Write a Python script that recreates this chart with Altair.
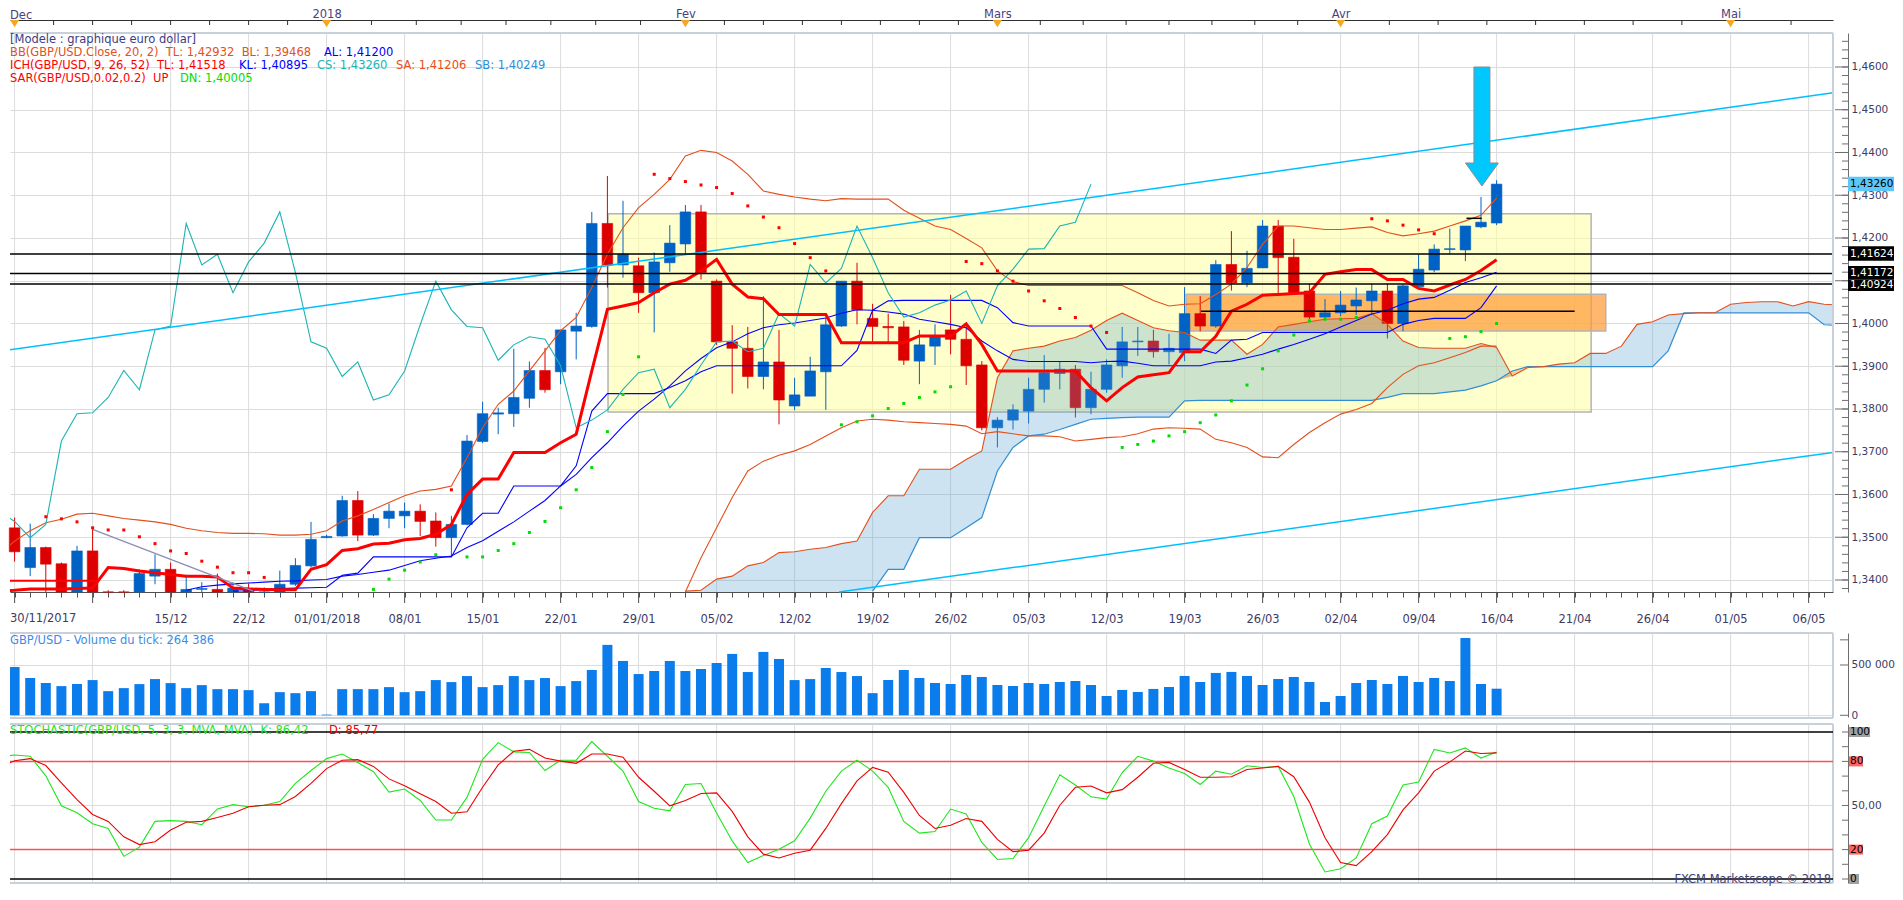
import altair as alt
import pandas as pd

FONT = "DejaVu Sans"
TXT_AXIS = "#3C3C64"

# ---------------- labels ----------------
DATE_IDX = [11, 16, 21, 26, 31, 36, 41, 46, 51, 56, 61, 66, 71, 76, 81, 86, 91, 96, 101, 106, 111, 116]
DATE_TXT = ["15/12", "22/12", "01/01/2018", "08/01", "15/01", "22/01", "29/01", "05/02", "12/02", "19/02",
            "26/02", "05/03", "12/03", "19/03", "26/03", "02/04", "09/04", "16/04", "21/04", "26/04",
            "01/05", "06/05"]
GRID_IDX = [1, 6] + DATE_IDX
MONTH_IDX = [1, 21, 44, 64, 86, 111]
MONTH_TXT = ["Dec", "2018", "Fev", "Mars", "Avr", "Mai"]

# ---------------- candles (bar index 0 = 30/11/2017 ... 96 = 16/04/2018) ----------------
OPEN = [1.3406, 1.3522, 1.3429, 1.3476, 1.3438, 1.3365, 1.3468, 1.3372, 1.3345, 1.3340,
        1.3409, 1.3425, 1.3330, 1.3378, 1.3378, 1.3350, 1.3381, 1.3350, 1.3365, 1.3390,
        1.3433, 1.3499, 1.3503, 1.3586, 1.3505, 1.3544, 1.3550, 1.3561, 1.3538, 1.3499,
        1.3530, 1.3724, 1.3788, 1.3789, 1.3825, 1.3890, 1.3887, 1.3982, 1.3993, 1.4234,
        1.4137, 1.4135, 1.4072, 1.4142, 1.4186, 1.4261, 1.4099, 1.3957, 1.3942, 1.3876,
        1.3910, 1.3807, 1.3830, 1.3887, 1.3994, 1.4099, 1.4012, 1.3993, 1.3992, 1.3912,
        1.3947, 1.3985, 1.3963, 1.3903, 1.3756, 1.3774, 1.3795, 1.3846, 1.3883, 1.3893,
        1.3803, 1.3846, 1.3901, 1.3957, 1.3959, 1.3934, 1.3932, 1.4023, 1.3994, 1.4138,
        1.4095, 1.4130, 1.4228, 1.4155, 1.4076, 1.4015, 1.4025, 1.4041, 1.4053, 1.4076,
        1.4000, 1.4086, 1.4125, 1.4173, 1.4172, 1.4226, 1.4235]
HIGH = [1.3542, 1.3546, 1.3532, 1.3478, 1.3441, 1.3480, 1.3522, 1.3376, 1.3376, 1.3425,
        1.3460, 1.3441, 1.3412, 1.3395, 1.3415, 1.3395, 1.3392, 1.3383, 1.3422, 1.3451,
        1.3536, 1.3506, 1.3597, 1.3608, 1.3554, 1.3579, 1.3581, 1.3577, 1.3558, 1.3550,
        1.3739, 1.3817, 1.3803, 1.3941, 1.3911, 1.3943, 1.3985, 1.4025, 1.4261, 1.4345,
        1.4287, 1.4154, 1.4166, 1.4230, 1.4277, 1.4277, 1.4103, 1.3996, 1.3992, 1.4064,
        1.3985, 1.3873, 1.3922, 1.4014, 1.4099, 1.4142, 1.4046, 1.4023, 1.4006, 1.3985,
        1.3998, 1.4067, 1.3998, 1.3912, 1.3781, 1.3811, 1.3873, 1.3926, 1.3911, 1.3903,
        1.3887, 1.3916, 1.3992, 1.3992, 1.3985, 1.3976, 1.4085, 1.4064, 1.4148, 1.4216,
        1.4170, 1.4242, 1.4242, 1.4198, 1.4093, 1.4057, 1.4076, 1.4084, 1.4093, 1.4093,
        1.4092, 1.4162, 1.4185, 1.4222, 1.4228, 1.4296, 1.4335]
LOW = [1.3398, 1.3443, 1.3409, 1.3365, 1.3355, 1.3350, 1.3355, 1.3320, 1.3300, 1.3330,
       1.3390, 1.3300, 1.3320, 1.3340, 1.3345, 1.3340, 1.3350, 1.3340, 1.3355, 1.3386,
       1.3429, 1.3498, 1.3501, 1.3491, 1.3503, 1.3521, 1.3521, 1.3503, 1.3478, 1.3454,
       1.3528, 1.3720, 1.3741, 1.3758, 1.3803, 1.3838, 1.3858, 1.3916, 1.3990, 1.4084,
       1.4107, 1.4025, 1.3979, 1.4121, 1.4163, 1.4103, 1.3950, 1.3836, 1.3848, 1.3846,
       1.3764, 1.3797, 1.3830, 1.3798, 1.3992, 1.3998, 1.3957, 1.3954, 1.3903, 1.3858,
       1.3903, 1.3928, 1.3856, 1.3750, 1.3710, 1.3752, 1.3766, 1.3815, 1.3846, 1.3780,
       1.3788, 1.3838, 1.3873, 1.3924, 1.3920, 1.3904, 1.3912, 1.3982, 1.3990, 1.4077,
       1.4085, 1.4130, 1.4068, 1.4070, 1.4010, 1.4012, 1.4017, 1.4020, 1.4020, 1.3965,
       1.3982, 1.4084, 1.4120, 1.4162, 1.4146, 1.4223, 1.4230]
CLOSE = [1.3522, 1.3466, 1.3476, 1.3437, 1.3368, 1.3468, 1.3370, 1.3345, 1.3340, 1.3415,
         1.3425, 1.3325, 1.3378, 1.3380, 1.3360, 1.3381, 1.3365, 1.3365, 1.3390, 1.3434,
         1.3495, 1.3502, 1.3586, 1.3505, 1.3544, 1.3561, 1.3561, 1.3537, 1.3499, 1.3530,
         1.3725, 1.3789, 1.3791, 1.3827, 1.3890, 1.3845, 1.3985, 1.3994, 1.4234, 1.4137,
         1.4162, 1.4072, 1.4144, 1.4188, 1.4261, 1.4119, 1.3957, 1.3942, 1.3876, 1.3910,
         1.3821, 1.3833, 1.3889, 1.3997, 1.4099, 1.4032, 1.3993, 1.3990, 1.3914, 1.3950,
         1.3969, 1.3963, 1.3901, 1.3756, 1.3774, 1.3798, 1.3846, 1.3885, 1.3893, 1.3803,
         1.3846, 1.3903, 1.3957, 1.3959, 1.3934, 1.3942, 1.4023, 1.3994, 1.4138, 1.4095,
         1.4129, 1.4228, 1.4154, 1.4072, 1.4015, 1.4025, 1.4043, 1.4055, 1.4076, 1.4000,
         1.4088, 1.4127, 1.4174, 1.4175, 1.4228, 1.4237, 1.4326]

# ---------------- indicator lines ----------------
TENKAN = [1.3374, 1.3376, 1.3379, 1.3379, 1.3379, 1.3380, 1.3381, 1.3429, 1.3427, 1.3421,
          1.3417, 1.3413, 1.3409, 1.3409, 1.3407, 1.3381, 1.3379, 1.3378, 1.3377, 1.3377,
          1.3425, 1.3436, 1.3469, 1.3473, 1.3484, 1.3486, 1.3494, 1.3497, 1.3507, 1.3530,
          1.3600, 1.3636, 1.3636, 1.3698, 1.3698, 1.3698, 1.3721, 1.3741, 1.3889, 1.4033,
          1.4041, 1.4049, 1.4072, 1.4092, 1.4101, 1.4123, 1.4150, 1.4092, 1.4062, 1.4058,
          1.4021, 1.4021, 1.4021, 1.4021, 1.3955, 1.3955, 1.3955, 1.3955, 1.3955, 1.3971,
          1.3971, 1.3971, 1.3999, 1.3951, 1.3889, 1.3889, 1.3889, 1.3889, 1.3889, 1.3889,
          1.3850, 1.3819, 1.3850, 1.3875, 1.3880, 1.3885, 1.3934, 1.3934, 1.3970, 1.4029,
          1.4045, 1.4066, 1.4068, 1.4070, 1.4072, 1.4115, 1.4121, 1.4126, 1.4126, 1.4103,
          1.4103, 1.4082, 1.4076, 1.4090, 1.4103, 1.4124, 1.4149]
KIJUN_START = 15
KIJUN = [1.3374, 1.3375, 1.3378, 1.3380, 1.3381, 1.3382, 1.3383, 1.3411, 1.3416, 1.3454,
         1.3454, 1.3454, 1.3454, 1.3454, 1.3454, 1.3522, 1.3556, 1.3556, 1.3620, 1.3620,
         1.3620, 1.3620, 1.3667, 1.3795, 1.3836, 1.3836, 1.3836, 1.3836, 1.3850, 1.3866,
         1.3887, 1.3901, 1.3901, 1.3901, 1.3901, 1.3901, 1.3901, 1.3901, 1.3901, 1.3901,
         1.3937, 1.4031, 1.4053, 1.4054, 1.4054, 1.4054, 1.4054, 1.4054, 1.4054, 1.4037,
         1.4002, 1.3994, 1.3994, 1.3994, 1.3994, 1.3994, 1.3940, 1.3940, 1.3940, 1.3940,
         1.3940, 1.3940, 1.3940, 1.3930, 1.3961, 1.3963, 1.3979, 1.3979, 1.3979, 1.3979,
         1.3979, 1.3979, 1.3979, 1.3979, 1.3979, 1.3998, 1.4007, 1.4012, 1.4012, 1.4012,
         1.4037, 1.4088]
BB_MID_START = 12
BB_MID = [1.3376, 1.3384, 1.3388, 1.3391, 1.3393, 1.3395, 1.3397, 1.3398, 1.3400, 1.3401,
          1.3409, 1.3413, 1.3418, 1.3423, 1.3434, 1.3445, 1.3451, 1.3456, 1.3476, 1.3492,
          1.3514, 1.3536, 1.3561, 1.3586, 1.3620, 1.3647, 1.3686, 1.3721, 1.3760, 1.3795,
          1.3823, 1.3854, 1.3889, 1.3918, 1.3943, 1.3957, 1.3976, 1.3990, 1.3997, 1.4001,
          1.4007, 1.4013, 1.4024, 1.4032, 1.4031, 1.4027, 1.4022, 1.4010, 1.4004, 1.3998,
          1.3990, 1.3959, 1.3936, 1.3916, 1.3911, 1.3911, 1.3911, 1.3911, 1.3908, 1.3911,
          1.3912, 1.3907, 1.3901, 1.3901, 1.3901, 1.3901, 1.3910, 1.3912, 1.3920, 1.3928,
          1.3940, 1.3951, 1.3963, 1.3976, 1.3992, 1.4007, 1.4022, 1.4031, 1.4046, 1.4057,
          1.4061, 1.4078, 1.4096, 1.4107, 1.4120]
BB_UP = [1.3460, 1.3491, 1.3515, 1.3534, 1.3542, 1.3554, 1.3556, 1.3550, 1.3544, 1.3540,
         1.3536, 1.3530, 1.3521, 1.3515, 1.3511, 1.3509, 1.3509, 1.3508, 1.3505, 1.3505,
         1.3507, 1.3515, 1.3538, 1.3550, 1.3565, 1.3581, 1.3597, 1.3608, 1.3612, 1.3620,
         1.3686, 1.3756, 1.3811, 1.3842, 1.3889, 1.3936, 1.3983, 1.4014, 1.4084, 1.4162,
         1.4224, 1.4271, 1.4302, 1.4337, 1.4392, 1.4405, 1.4400, 1.4380, 1.4349, 1.4310,
         1.4302, 1.4296, 1.4291, 1.4287, 1.4292, 1.4291, 1.4291, 1.4291, 1.4265, 1.4246,
         1.4228, 1.4220, 1.4199, 1.4177, 1.4123, 1.4098, 1.4089, 1.4089, 1.4089, 1.4089,
         1.4089, 1.4089, 1.4089, 1.4072, 1.4054, 1.4041, 1.4045, 1.4046, 1.4068, 1.4092,
         1.4131, 1.4185, 1.4228, 1.4228, 1.4224, 1.4220, 1.4220, 1.4223, 1.4226, 1.4213,
         1.4205, 1.4210, 1.4216, 1.4228, 1.4240, 1.4253, 1.4293]
BB_LOW_START = 44
BB_LOW = [1.3372, 1.3452, 1.3522, 1.3593, 1.3655, 1.3678, 1.3692, 1.3702, 1.3717, 1.3737,
          1.3756, 1.3772, 1.3776, 1.3774, 1.3770, 1.3768, 1.3766, 1.3764, 1.3760, 1.3742,
          1.3747, 1.3742, 1.3737, 1.3737, 1.3735, 1.3725, 1.3729, 1.3733, 1.3735, 1.3742,
          1.3753, 1.3756, 1.3755, 1.3753, 1.3729, 1.3721, 1.3710, 1.3688, 1.3686, 1.3717,
          1.3745, 1.3768, 1.3788, 1.3799, 1.3813, 1.3850, 1.3881, 1.3901, 1.3908, 1.3920,
          1.3932, 1.3947, 1.3947]
SPAN_START = 44
SPAN_A = [1.3374, 1.3376, 1.3402, 1.3409, 1.3433, 1.3441, 1.3464, 1.3466, 1.3472, 1.3476,
          1.3485, 1.3491, 1.3558, 1.3597, 1.3597, 1.3659, 1.3659, 1.3659, 1.3682, 1.3702,
          1.3873, 1.3936, 1.3942, 1.3947, 1.3959, 1.3967, 1.3984, 1.4007, 1.4024, 1.4007,
          1.3990, 1.3983, 1.3979, 1.3961, 1.3961, 1.3961, 1.3928, 1.3951, 1.3992, 1.3998,
          1.4004, 1.4010, 1.4011, 1.4012, 1.4023, 1.3998, 1.3959, 1.3944, 1.3942, 1.3942,
          1.3942, 1.3953, 1.3944, 1.3877, 1.3897, 1.3899, 1.3905, 1.3908, 1.3930, 1.3930,
          1.3947, 1.3998, 1.4004, 1.4020, 1.4023, 1.4025, 1.4025, 1.4045, 1.4049, 1.4051,
          1.4051, 1.4041, 1.4051, 1.4045, 1.4043]
SPAN_B = [1.3372, 1.3372, 1.3372, 1.3372, 1.3372, 1.3372, 1.3372, 1.3372, 1.3372, 1.3372,
          1.3372, 1.3372, 1.3374, 1.3425, 1.3425, 1.3499, 1.3499, 1.3499, 1.3522, 1.3546,
          1.3655, 1.3710, 1.3737, 1.3741, 1.3752, 1.3764, 1.3776, 1.3778, 1.3780, 1.3781,
          1.3781, 1.3781, 1.3819, 1.3820, 1.3820, 1.3820, 1.3820, 1.3820, 1.3820, 1.3820,
          1.3820, 1.3820, 1.3820, 1.3820, 1.3820, 1.3827, 1.3836, 1.3836, 1.3836, 1.3840,
          1.3844, 1.3854, 1.3866, 1.3889, 1.3899, 1.3899, 1.3899, 1.3899, 1.3899, 1.3899,
          1.3899, 1.3899, 1.3899, 1.3936, 1.4025, 1.4025, 1.4025, 1.4025, 1.4025, 1.4025,
          1.4025, 1.4025, 1.4025, 1.3997, 1.3995]
SB_VISIBLE_FROM = 56
OLD_RED_LINE = [(0.19, 1.3398), (6.4, 1.3398)]

SAR_IDX = list(range(3, 18)) + list(range(24, 29)) + [29] + list(range(30, 42)) + list(range(42, 54)) \
    + list(range(54, 62)) + list(range(62, 72)) + list(range(72, 88)) + list(range(88, 93)) + list(range(93, 97))
SAR_VAL = [1.3548, 1.3543, 1.3536, 1.3522, 1.3517, 1.3517, 1.3501, 1.3485, 1.3468, 1.3462,
           1.3444, 1.3430, 1.3417, 1.3417, 1.3406,
           1.3378, 1.3402, 1.3423, 1.3442, 1.3459,
           1.3611,
           1.3454, 1.3454, 1.3469, 1.3485, 1.3511, 1.3537, 1.3569, 1.3611, 1.3663, 1.3747, 1.3834, 1.3922,
           1.4349, 1.4339, 1.4332, 1.4324, 1.4318, 1.4304, 1.4275, 1.4249, 1.4224, 1.4187, 1.4154, 1.4123,
           1.3763, 1.3770, 1.3784, 1.3801, 1.3813, 1.3827, 1.3840, 1.3852,
           1.4145, 1.4140, 1.4123, 1.4099, 1.4076, 1.4053, 1.4035, 1.4014, 1.3994, 1.3979,
           1.3710, 1.3717, 1.3725, 1.3737, 1.3747, 1.3768, 1.3786, 1.3819, 1.3856, 1.3894, 1.3936, 1.3973,
           1.4006, 1.4010, 1.4010, 1.4014,
           1.4245, 1.4240, 1.4230, 1.4219, 1.4210,
           1.3965, 1.3969, 1.3981, 1.4000]
SAR_SIDE = ["dn"] * 15 + ["up"] * 5 + ["dn"] + ["up"] * 12 + ["dn"] * 12 + ["up"] * 8 + ["dn"] * 10 \
    + ["up"] * 16 + ["dn"] * 5 + ["up"] * 4

# drawn objects (bar index, price)
TREND_UP = [(0.192, 1.39357), (117.56, 1.45396)]
TREND_LOW = [(53.85, 1.33719), (117.56, 1.36985)]
GREY_DIAG = [(6.0, 1.35185), (16.3, 1.3374)]
HLINES = [1.41624, 1.41172, 1.40924]
SHORT_LINES = [(77.05, 101.0, 1.40285), (94.07, 95.04, 1.4246)]
YELLOW_BOX = (39.04, 102.06, 1.3793, 1.42568)
ORANGE_BOX = (76.1, 103.0, 1.39824, 1.40683)
ARROW = (95.06, 1.44608)

# ---------------- volume and stochastic ----------------
VOLUME = [423000, 480000, 370000, 320000, 290000, 310000, 350000, 240000, 270000, 310000,
          360000, 320000, 270000, 300000, 260000, 260000, 250000, 120000, 230000, 220000,
          240000, 7000, 260000, 260000, 260000, 280000, 230000, 240000, 350000, 330000,
          390000, 280000, 300000, 390000, 350000, 370000, 290000, 340000, 450000, 700000,
          540000, 410000, 440000, 540000, 440000, 460000, 520000, 610000, 430000, 630000,
          560000, 350000, 360000, 470000, 430000, 390000, 220000, 351000, 450000, 371000,
          321000, 311000, 401000, 381000, 301000, 291000, 321000, 311000, 331000, 341000,
          301000, 192000, 252000, 232000, 262000, 281000, 391000, 331000, 421000, 431000,
          391000, 301000, 361000, 381000, 331000, 132000, 192000, 321000, 351000, 311000,
          391000, 331000, 371000, 341000, 768000, 311000, 264386]
STO_K = [82.9, 84.4, 83.5, 70.2, 49.8, 45.0, 37.6, 34.4, 15.4, 21.7,
         39.2, 39.7, 39.2, 36.9, 47.7, 50.6, 49.2, 50.2, 52.7, 65.0,
         73.8, 81.9, 85.0, 79.3, 73.0, 59.1, 61.2, 53.4, 40.1, 40.1,
         55.5, 81.4, 92.8, 86.5, 86.1, 73.8, 80.8, 80.8, 93.5, 83.5,
         73.4, 52.7, 48.1, 46.4, 64.3, 65.0, 44.9, 25.9, 11.2, 16.0,
         20.3, 26.0, 41.4, 59.7, 73.4, 80.8, 73.4, 62.4, 39.2, 31.2,
         32.3, 47.6, 44.3, 24.9, 13.3, 13.9, 28.1, 49.6, 70.9, 63.9,
         55.9, 54.4, 72.4, 83.5, 80.2, 75.5, 71.7, 64.3, 73.4, 71.3,
         77.0, 75.9, 76.6, 56.1, 23.8, 4.8, 7.0, 14.3, 37.6, 42.8,
         63.9, 66.0, 88.2, 85.7, 89.2, 82.3, 86.42]
STO_D = [75.9, 80.4, 81.9, 77.2, 65.4, 54.0, 43.9, 39.2, 28.7, 23.4,
         25.3, 33.3, 38.6, 39.2, 41.8, 44.7, 49.2, 50.2, 50.6, 56.1,
         65.0, 75.1, 80.8, 81.2, 76.6, 68.1, 63.5, 58.0, 52.7, 44.7,
         45.8, 62.4, 77.6, 86.9, 88.2, 82.3, 80.2, 78.7, 85.0, 85.0,
         82.9, 69.2, 59.7, 49.8, 53.4, 58.2, 58.6, 46.0, 28.7, 16.9,
         14.3, 17.5, 19.6, 34.4, 51.3, 66.7, 75.9, 72.6, 58.9, 43.2,
         34.4, 36.5, 41.1, 39.2, 27.0, 18.6, 19.6, 31.2, 50.2, 62.4,
         63.3, 58.6, 60.8, 69.2, 78.7, 79.3, 74.5, 69.2, 69.2, 69.6,
         74.5, 75.5, 76.6, 69.6, 52.3, 28.1, 11.2, 9.1, 18.6, 30.2,
         47.0, 58.6, 73.4, 79.7, 87.1, 85.4, 85.77]

# ---------------- geometry ----------------
W, H = 1823, 850
XMIN, XMAX = 0.7051, 117.564
PMIN, PMAX = 1.33719, 1.46795
P_RANGE = [559, 0]
V_DOM, V_RANGE = [-17000, 818000], [684, 600]
S_DOM, S_RANGE = [-2.72, 105.44], [850, 691]

XS = alt.Scale(domain=[XMIN, XMAX], nice=False, zero=False)


def xq(f, axis=None):
    return alt.X(f, type="quantitative", scale=XS, axis=axis)


def yq(f, dom, rng, axis=None, clamp=False):
    return alt.Y(f, type="quantitative",
                 scale=alt.Scale(domain=dom, range=rng, nice=False, zero=False, clamp=clamp),
                 axis=axis)


def py(f, axis=None):
    return yq(f, [PMIN, PMAX], P_RANGE, axis, True)


def vy(f, axis=None):
    return yq(f, V_DOM, V_RANGE, axis)


def sy(f, axis=None):
    return yq(f, S_DOM, S_RANGE, axis)


ONE = pd.DataFrame({"a": [0]})


def txt(x, y, s, color, size=11.5, align="left", baseline="middle"):
    return alt.Chart(ONE).mark_text(text=s, font=FONT, fontSize=size, color=color,
                                    align=align, baseline=baseline).encode(
        x=alt.value(x), y=alt.value(y))


def line(points_i, points_v, color, width):
    df = pd.DataFrame({"i": points_i, "v": points_v})
    return alt.Chart(df).mark_line(color=color, strokeWidth=width, clip=True).encode(x=xq("i"), y=py("v"))


def ternary(idx, labels):
    e = "''"
    for k, t in reversed(list(zip(idx, labels))):
        e = "(datum.value == %s ? '%s' : %s)" % (k, t, e)
    return e


layers = []

# vertical grid lines in each panel
gdf = pd.DataFrame({"g": GRID_IDX})
for y0, y1 in [(0, 559), (600, 684), (691, 850)]:
    layers.append(alt.Chart(gdf).mark_rule(color="#DCDCDC", strokeWidth=1).encode(
        x=xq("g"), y=alt.value(y0), y2=alt.value(y1)))

# axis carriers
PT = [round(1.34 + 0.01 * k, 2) for k in range(13)]
price_axis = alt.Axis(orient="right", offset=15, values=PT, title=None, grid=True, gridColor="#DCDCDC",
                      ticks=False, tickSize=0, domainColor="#6E6E6E", labelFont=FONT, labelFontSize=10.5,
                      labelColor=TXT_AXIS, labelPadding=3, labelOverlap=False, labelFlush=False, zindex=0,
                      labelExpr="abs(datum.value - 1.41) < 0.0005 ? '' : replace(format(datum.value, '.4f'), '.', ',')")
layers.append(alt.Chart(pd.DataFrame({"v": PT})).mark_point(opacity=0).encode(y=py("v", price_axis)))

vol_axis = alt.Axis(orient="right", offset=15, values=[0, 500000], title=None, grid=True, gridColor="#DCDCDC",
                    ticks=False, tickSize=0, domainColor="#6E6E6E", labelFont=FONT, labelFontSize=10.5,
                    labelColor=TXT_AXIS, labelPadding=3, labelOverlap=False, labelFlush=False, zindex=0,
                    labelExpr="datum.value == 0 ? '0' : '500 000'")
layers.append(alt.Chart(pd.DataFrame({"v": [0, 500000]})).mark_point(opacity=0).encode(y=vy("v", vol_axis)))

sto_axis = alt.Axis(orient="right", offset=15, values=[50], title=None, grid=True, gridColor="#DCDCDC",
                    ticks=False, tickSize=0, domainColor="#6E6E6E", labelFont=FONT, labelFontSize=10.5,
                    labelColor=TXT_AXIS, labelPadding=3, labelOverlap=False, labelFlush=False, zindex=0,
                    labelExpr="'50,00'")
layers.append(alt.Chart(pd.DataFrame({"v": [50]})).mark_point(opacity=0).encode(y=sy("v", sto_axis)))

date_axis = alt.Axis(orient="bottom", offset=-(H - 559), values=list(range(1, 118)), title=None, grid=False,
                     tickSize=5, tickColor="#505050", domainColor="#505050", labelFont=FONT, labelFontSize=11.5,
                     labelColor=TXT_AXIS, labelPadding=16, labelOverlap=False, labelFlush=False, zindex=0,
                     labelExpr=ternary(DATE_IDX, DATE_TXT))
layers.append(alt.Chart(pd.DataFrame({"t": list(range(1, 118))})).mark_point(opacity=0).encode(
    x=xq("t", date_axis)))

month_axis = alt.Axis(orient="top", offset=13, values=MONTH_IDX[1:], title=None, grid=False, ticks=False,
                      tickSize=0, domainColor="#303030", labelFont=FONT, labelFontSize=11.5,
                      labelColor="#4B3F80", labelPadding=1, labelOverlap=False, labelFlush=False, zindex=0,
                      labelExpr=ternary(MONTH_IDX[1:], MONTH_TXT[1:]))
layers.append(alt.Chart(pd.DataFrame({"m": MONTH_IDX[1:]})).mark_point(opacity=0).encode(
    x=xq("m", month_axis)))

# drawn boxes
for (x1, x2, p1, p2), fill, op in [(YELLOW_BOX, "#FFFFA0", 0.55), (ORANGE_BOX, "#FF9933", 0.7)]:
    df = pd.DataFrame({"x1": [x1], "x2": [x2], "p1": [p1], "p2": [p2]})
    layers.append(alt.Chart(df).mark_rect(fill=fill, fillOpacity=op, stroke="#B4B4B4", strokeWidth=1.5).encode(
        x=xq("x1"), x2="x2", y=py("p1"), y2="p2"))

# candles
cdf = pd.DataFrame({"i": list(range(len(OPEN))), "o": OPEN, "h": HIGH, "l": LOW, "c": CLOSE})
cbase = alt.Chart(cdf).transform_filter("datum.i >= 1").transform_calculate(
    col="datum.c >= datum.o ? '#0062C4' : '#DD0000'", xl="datum.i - 0.34", xr="datum.i + 0.34")
layers.append(cbase.mark_rule(strokeWidth=1).encode(
    x=xq("i"), y=py("l"), y2="h", color=alt.Color("col:N", scale=None)))
layers.append(cbase.mark_rect(strokeWidth=0.6).encode(
    x=xq("xl"), x2="xr", y=py("o"), y2="c", color=alt.Color("col:N", scale=None),
    stroke=alt.Stroke("col:N", scale=None)))

# ichimoku cloud fill (drawn over the candles, translucent)
cloud = pd.DataFrame({"i": list(range(SPAN_START, SPAN_START + len(SPAN_A))), "sa": SPAN_A, "sb": SPAN_B})
clb = alt.Chart(cloud).transform_calculate(lo="min(datum.sa, datum.sb)")
layers.append(clb.mark_area(color="#4A9BD0", opacity=0.28, clip=True, orient="vertical").encode(
    x=xq("i"), y=py("sa"), y2="lo"))
layers.append(clb.mark_area(color="#FF8030", opacity=0.4, clip=True, orient="vertical").encode(
    x=xq("i"), y=py("sb"), y2="lo"))

# lines
ORANGE_L = "#E4501C"
sb_pairs = [(i, v) for i, v in zip(range(SPAN_START, SPAN_START + len(SPAN_B)), SPAN_B) if i >= SB_VISIBLE_FROM]
layers.append(line([p[0] for p in sb_pairs], [p[1] for p in sb_pairs], "#2E8FD6", 1.2))
layers.append(line(list(range(SPAN_START, SPAN_START + len(SPAN_A))), SPAN_A, ORANGE_L, 1.1))
layers.append(line(list(range(BB_LOW_START, BB_LOW_START + len(BB_LOW))), BB_LOW, ORANGE_L, 1.1))
layers.append(line(list(range(len(BB_UP))), BB_UP, ORANGE_L, 1.1))
layers.append(line(list(range(BB_MID_START, BB_MID_START + len(BB_MID))), BB_MID, "#0000FF", 1.1))
layers.append(line(list(range(KIJUN_START, KIJUN_START + len(KIJUN))), KIJUN, "#0000FF", 1.1))
chikou = CLOSE[26:]
layers.append(line(list(range(len(chikou))), chikou, "#1CB4B4", 1.1))
layers.append(line([p[0] for p in OLD_RED_LINE], [p[1] for p in OLD_RED_LINE], "#FF0000", 2))
layers.append(line(list(range(len(TENKAN))), TENKAN, "#FF0000", 3))
for seg in (TREND_UP, TREND_LOW):
    layers.append(line([p[0] for p in seg], [p[1] for p in seg], "#00BFFF", 1.5))
layers.append(line([p[0] for p in GREY_DIAG], [p[1] for p in GREY_DIAG], "#8C8CB4", 1.2))

# horizontal black lines
layers.append(alt.Chart(pd.DataFrame({"v": HLINES})).mark_rule(color="#000000", strokeWidth=1.5).encode(
    y=py("v"), x=alt.value(0), x2=alt.value(W)))
sl = pd.DataFrame({"i1": [s[0] for s in SHORT_LINES], "i2": [s[1] for s in SHORT_LINES],
                   "v": [s[2] for s in SHORT_LINES]})
layers.append(alt.Chart(sl).mark_rule(color="#000000", strokeWidth=1.5).encode(
    x=xq("i1"), x2="i2", y=py("v")))

# parabolic SAR
sar = pd.DataFrame({"i": SAR_IDX, "v": SAR_VAL, "side": SAR_SIDE})
layers.append(alt.Chart(sar).transform_calculate(
    col="datum.side == 'dn' ? '#FF0000' : '#00DD00'").mark_square(size=9, opacity=1, clip=True).encode(
    x=xq("i"), y=py("v"), color=alt.Color("col:N", scale=None)))

# big arrow
ARROW_PATH = "M-0.485,-3.606L0.485,-3.606L0.485,2.212L1,2.212L0,3.606L-1,2.212L-0.485,2.212Z"
layers.append(alt.Chart(pd.DataFrame({"i": [ARROW[0]], "v": [ARROW[1]]})).mark_point(
    shape=ARROW_PATH, filled=True, fill="#00C8FF", stroke="#8C8C8C", strokeWidth=1, size=1089,
    opacity=1, fillOpacity=1).encode(x=xq("i"), y=py("v")))

# panel frames
FR = "#C8D0DA"
for (xa, xb, ya, yb) in [(0, W, 0, 0), (W, W, 0, 559), (0, W, 600, 600), (0, W, 685, 685), (W, W, 600, 685),
                         (0, W, 691, 691), (W, W, 691, 850), (0, W, 850, 850)]:
    layers.append(alt.Chart(ONE).mark_rule(color=FR, strokeWidth=2).encode(
        x=alt.value(xa), x2=alt.value(xb), y=alt.value(ya), y2=alt.value(yb)))

# right axis tick marks
minor = [round(1.338 + 0.002 * k, 3) for k in range(65)]
major = [v for v in minor if abs(round(v * 100) - v * 100) < 1e-6]
layers.append(alt.Chart(pd.DataFrame({"v": minor})).mark_rule(color="#6E6E6E", strokeWidth=1).encode(
    y=py("v"), x=alt.value(W + 9), x2=alt.value(W + 15)))
layers.append(alt.Chart(pd.DataFrame({"v": major})).mark_rule(color="#6E6E6E", strokeWidth=1).encode(
    y=py("v"), x=alt.value(W + 2), x2=alt.value(W + 15)))
layers.append(alt.Chart(pd.DataFrame({"v": [0, 500000, 750000]})).mark_rule(color="#6E6E6E").encode(
    y=vy("v"), x=alt.value(W + 7), x2=alt.value(W + 15)))
layers.append(alt.Chart(pd.DataFrame({"v": list(range(0, 101, 10))})).mark_rule(color="#6E6E6E").encode(
    y=sy("v"), x=alt.value(W + 9), x2=alt.value(W + 15)))

# price label boxes
PBOX = [(1.43263, 0.00167, "1,43260", "#5CC8F8", "#000000"),
        (1.41637, 0.00170, "1,41624", "#000000", "#FFFFFF"),
        (1.41188, 0.00155, "1,41172", "#000000", "#FFFFFF"),
        (1.40896, 0.00137, "1,40924", "#000000", "#FFFFFF")]
pb = pd.DataFrame({"c": [b[0] for b in PBOX], "p1": [b[0] + b[1] for b in PBOX],
                   "p2": [b[0] - b[1] for b in PBOX], "t": [b[2] for b in PBOX],
                   "bg": [b[3] for b in PBOX], "fg": [b[4] for b in PBOX]})
layers.append(alt.Chart(pb).mark_rect().encode(
    x=alt.value(W + 15), x2=alt.value(W + 61), y=py("p1"), y2="p2", color=alt.Color("bg:N", scale=None)))
layers.append(alt.Chart(pb).mark_text(align="left", baseline="middle", font=FONT, fontSize=10.5).encode(
    x=alt.value(W + 17), y=py("c"), text="t:N", color=alt.Color("fg:N", scale=None)))

# stochastic label boxes
for v, t, bg, w in [(100, "100", "#A0A0A0", 21), (80, "80", "#FF6464", 14), (20, "20", "#FF6464", 14),
                    (0, "0", "#A0A0A0", 10)]:
    df = pd.DataFrame({"v": [v], "p1": [v + 3.4], "p2": [v - 3.4], "t": [t]})
    layers.append(alt.Chart(df).mark_rect(color=bg).encode(
        x=alt.value(W + 16), x2=alt.value(W + 16 + w), y=sy("p1"), y2="p2"))
    layers.append(alt.Chart(df).mark_text(align="left", baseline="middle", font=FONT, fontSize=10.5,
                                          color="#000000").encode(
        x=alt.value(W + 17), y=sy("v"), text="t:N"))

# top month axis decorations
top_ticks = []
for a, b in zip(MONTH_IDX, MONTH_IDX[1:] + [142]):
    for k in range(8):
        t = a + (b - a) * k / 8.0
        if XMIN <= t <= XMAX:
            top_ticks.append(round(t, 3))
layers.append(alt.Chart(pd.DataFrame({"t": top_ticks})).mark_rule(color="#303030").encode(
    x=xq("t"), y=alt.value(-13), y2=alt.value(-8)))
TRI = "M-1,-0.8L1,-0.8L0,0.8Z"
layers.append(alt.Chart(pd.DataFrame({"m": MONTH_IDX})).mark_point(
    shape=TRI, filled=True, color="#F5A623", size=81, opacity=1).encode(x=xq("m"), y=alt.value(-9.4)))
layers.append(txt(0, -12, MONTH_TXT[0], "#4B3F80", baseline="bottom"))

# weekly major ticks on the date axis + first date label
layers.append(alt.Chart(pd.DataFrame({"g": GRID_IDX})).mark_rule(color="#505050").encode(
    x=xq("g"), y=alt.value(559), y2=alt.value(570)))
layers.append(txt(0, 580, "30/11/2017", TXT_AXIS, baseline="top"))

# legend texts
NB = "\u00a0 "
LEG = [
    (7, [(0, "[Modele : graphique euro dollar]", "#3C3C82")]),
    (20, [(0, "BB(GBP/USD.Close, 20, 2)" + NB + "TL: 1,42932" + NB + "BL: 1,39468", "#E4501C"),
          (314, "AL: 1,41200", "#0000FF")]),
    (33, [(0, "ICH(GBP/USD, 9, 26, 52)" + NB + "TL: 1,41518", "#FF0000"), (229, "KL: 1,40895", "#0000FF"),
          (307, "CS: 1,43260", "#1CB4B4"), (386, "SA: 1,41206", "#E4501C"), (465, "SB: 1,40249", "#2E8FD6")]),
    (46, [(0, "SAR(GBP/USD,0.02,0.2)" + NB + "UP", "#FF0000"), (170, "DN: 1,40005", "#00DD00")]),
]
for y, segs in LEG:
    for x, s, c in segs:
        layers.append(txt(x, y, s, c))

# volume panel
vdf = pd.DataFrame({"i": list(range(len(VOLUME))), "vol": VOLUME})
layers.append(alt.Chart(vdf).transform_calculate(xl="datum.i - 0.32", xr="datum.i + 0.32", z="0").mark_rect(
    color="#0B7CEB", clip=True).encode(x=xq("xl"), x2="xr", y=vy("vol"), y2="z"))
layers.append(txt(0, 608, "GBP/USD - Volume du tick: 264 386", "#3C8CE6"))

# stochastic panel
for vals, c in [([100, 0], "#000000"), ([80, 20], "#FF5050")]:
    layers.append(alt.Chart(pd.DataFrame({"v": vals})).mark_rule(color=c, strokeWidth=1.5).encode(
        y=sy("v"), x=alt.value(0), x2=alt.value(W)))
sdf = pd.DataFrame({"i": list(range(len(STO_K))), "k": STO_K, "d": STO_D})
layers.append(alt.Chart(sdf).mark_line(color="#1EE61E", strokeWidth=1.1, clip=True).encode(x=xq("i"), y=sy("k")))
layers.append(alt.Chart(sdf).mark_line(color="#EE0000", strokeWidth=1.1, clip=True).encode(x=xq("i"), y=sy("d")))
layers.append(txt(0, 698, "STOCHASTIC(GBP/USD, 5, 3, 3, MVA, MVA)" + NB + "K: 86,42", "#1EE61E"))
layers.append(txt(319, 698, "D: 85,77", "#EE0000"))
layers.append(txt(W - 2, 847, "FXCM Marketscope \u00a9 2018", "#404070", align="right"))

chart = alt.layer(*layers).properties(width=W, height=H, padding=0).resolve_scale(
    y="independent").resolve_axis(x="independent").configure_view(stroke=None)

chart.save("out.html", embed_options={"renderer": "svg", "actions": False})
